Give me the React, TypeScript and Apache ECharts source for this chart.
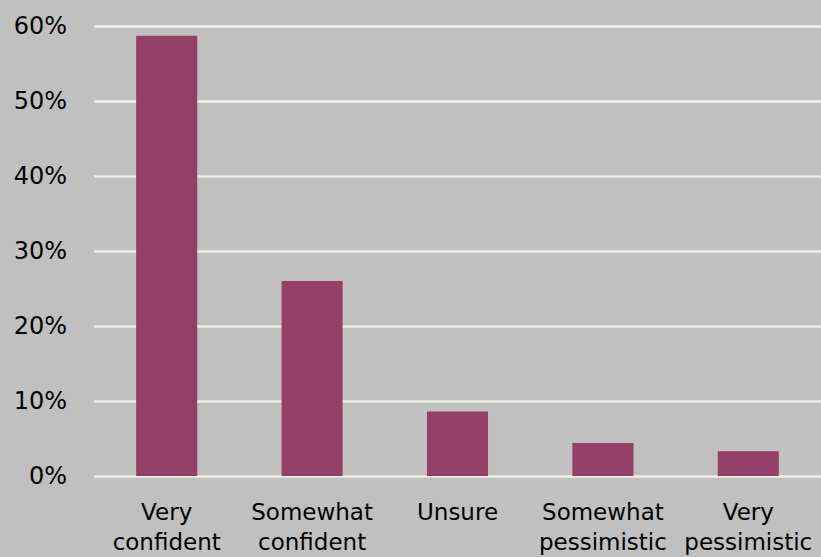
import React, { useEffect, useRef } from "react";
import * as echarts from "echarts";

const categories = [
  "Very\nconfident",
  "Somewhat\nconfident",
  "Unsure",
  "Somewhat\npessimistic",
  "Very\npessimistic",
];
const values = [58.7, 26.0, 8.6, 4.4, 3.3];
const yTicks = { min: 0, max: 60, interval: 10 };

export default function App() {
  const ref = useRef<HTMLDivElement>(null);
  useEffect(() => {
    if (!ref.current) return;
    const chart = echarts.init(ref.current, undefined, { renderer: "svg" });
    chart.setOption({
      animation: false,
      backgroundColor: "#c0c0c0",
      grid: { left: 94, right: 0, top: 26, bottom: 80, containLabel: false },
      xAxis: {
        type: "category",
        data: categories,
        axisLine: { show: false },
        axisTick: { show: false },
        axisLabel: {
          interval: 0,
          margin: 21,
          color: "#000",
          fontFamily: "DejaVu Sans",
          fontSize: 23,
          lineHeight: 30,
        },
      },
      yAxis: {
        type: "value",
        min: yTicks.min,
        max: yTicks.max,
        interval: yTicks.interval,
        axisLine: { show: false },
        axisTick: { show: false },
        axisLabel: {
          margin: 27,
          color: "#000",
          fontFamily: "DejaVu Sans",
          fontSize: 24,
          formatter: (v: number) => `${v}%`,
        },
        splitLine: { lineStyle: { color: "#efeee0", width: 2.5 } },
      },
      series: [
        {
          type: "bar",
          data: values,
          barWidth: "42%",
          itemStyle: { color: "#953f66" },
        },
      ],
    });
    return () => chart.dispose();
  }, []);
  return (
    <div
      ref={ref}
      style={{ position: "absolute", left: 0, top: 0, width: 821, height: 557 }}
    />
  );
}
